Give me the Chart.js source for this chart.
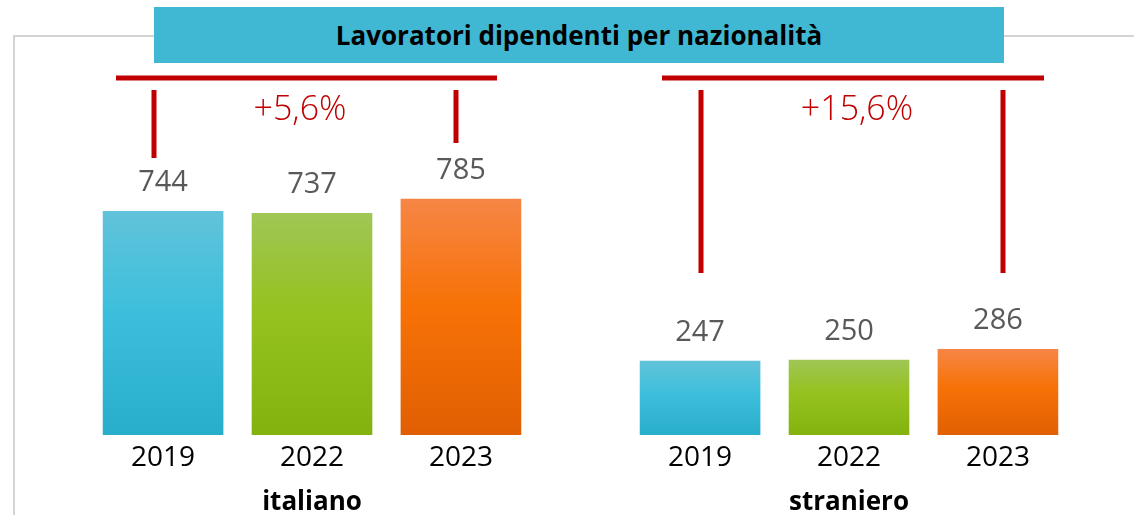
<!DOCTYPE html>
<html>
<head>
<meta charset="utf-8">
<script src="https://cdn.jsdelivr.net/npm/chart.js@4"></script>
<style>
  html, body { margin: 0; padding: 0; background: #fff; }
  #wrap { position: relative; width: 1134px; height: 515px; overflow: hidden; font-family: 'Open Sans', sans-serif; }
  .frame-v { position: absolute; left: 13px; top: 35px; width: 2px; height: 490px; background: #d3d3d3; }
  .frame-h { position: absolute; left: 13px; top: 35px; width: 1121px; height: 2px; background: #d3d3d3; }
  #title {
    position: absolute; left: 154px; top: 7px; width: 850px; height: 56px;
    background: #41b8d3; color: #000; font-weight: 700; font-size: 26px;
    display: flex; align-items: center; justify-content: center;
  }
  canvas { position: absolute; left: 0; top: 0; }
</style>
</head>
<body>
<div id="wrap">
  <div class="frame-v"></div>
  <div class="frame-h"></div>
  <div id="title">Lavoratori dipendenti per nazionalità</div>
  <canvas id="chart" width="1134" height="515"></canvas>
</div>
<script>
// groups on the x axis, one dataset per year
const groups = ['italiano', 'straniero'];
const years = ['2019', '2022', '2023'];
const val2019 = [744, 247];
const val2022 = [737, 250];
const val2023 = [785, 286];
const changes = ['+5,6%', '+15,6%'];

// top / middle / bottom colours of each year's gradient
const GRADS = [
  ['#62c3da', '#3cbfdc', '#28adca'],
  ['#a0c655', '#95c21e', '#83b20e'],
  ['#f68646', '#f77206', '#e15f03']
];
const RED = '#c00000';

function barGradient(c) {
  const chart = c.chart;
  if (!chart.chartArea || c.raw === undefined) return GRADS[c.datasetIndex][1];
  const y = chart.scales.y;
  const top = y.getPixelForValue(c.raw);
  const bottom = y.getPixelForValue(0);
  const g = chart.ctx.createLinearGradient(0, top, 0, bottom);
  const cols = GRADS[c.datasetIndex];
  g.addColorStop(0, cols[0]);
  g.addColorStop(0.45, cols[1]);
  g.addColorStop(1, cols[2]);
  return g;
}

// value above each bar and the year below it
const barLabels = {
  id: 'barLabels',
  afterDatasetsDraw(chart) {
    const ctx = chart.ctx;
    ctx.save();
    ctx.textAlign = 'center';
    ctx.textBaseline = 'middle';
    chart.data.datasets.forEach((ds, di) => {
      chart.getDatasetMeta(di).data.forEach((bar, i) => {
        ctx.font = "29px 'Open Sans'";
        ctx.fillStyle = '#595959';
        ctx.fillText(String(ds.data[i]), bar.x, bar.y - 28);
        ctx.font = "28px 'Open Sans'";
        ctx.fillStyle = '#000';
        ctx.fillText(ds.label, bar.x, chart.chartArea.bottom + 23);
      });
    });
    ctx.restore();
  }
};

// red brackets with the % change, hand-drawn in the original
const BRACKETS = [
  { x1: 116, x2: 497, left: [154, 158], right: [456, 143], tx: 300 },
  { x1: 662, x2: 1044, left: [701, 273], right: [1003, 273], tx: 857 }
];
const brackets = {
  id: 'brackets',
  afterDraw(chart) {
    const ctx = chart.ctx;
    ctx.save();
    ctx.strokeStyle = RED;
    ctx.lineWidth = 5;
    BRACKETS.forEach((b, i) => {
      ctx.beginPath();
      ctx.moveTo(b.x1, 78); ctx.lineTo(b.x2, 78);
      ctx.moveTo(b.left[0], 90); ctx.lineTo(b.left[0], b.left[1]);
      ctx.moveTo(b.right[0], 90); ctx.lineTo(b.right[0], b.right[1]);
      ctx.stroke();
      ctx.fillStyle = RED;
      ctx.font = "300 34px 'Open Sans'";
      ctx.textAlign = 'center';
      ctx.textBaseline = 'middle';
      ctx.fillText(changes[i], b.tx, 110);
    });
    ctx.restore();
  }
};

new Chart(document.getElementById('chart'), {
  type: 'bar',
  data: {
    labels: groups,
    datasets: [
      { label: years[0], data: val2019 },
      { label: years[1], data: val2022 },
      { label: years[2], data: val2023 }
    ]
  },
  options: {
    responsive: false,
    animation: false,
    categoryPercentage: 0.832,
    barPercentage: 0.81,
    backgroundColor: barGradient,
    layout: { padding: { top: 13.5, left: 43.5, right: 16.5, bottom: 0 } },
    plugins: { legend: { display: false }, tooltip: { enabled: false } },
    scales: {
      y: { display: false, min: 0, max: 1400 },
      x: {
        grid: { display: false },
        border: { display: false },
        ticks: { padding: 44, color: '#000', font: { family: "'Open Sans'", size: 26, weight: 'bold' } },
        afterFit(scale) { scale.height = 80; }
      }
    }
  },
  plugins: [barLabels, brackets]
});
</script>
</body>
</html>
